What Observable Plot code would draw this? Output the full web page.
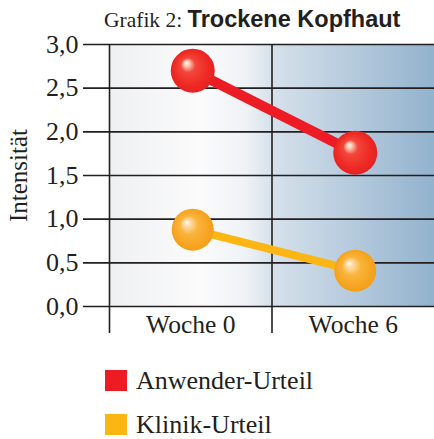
<!DOCTYPE html>
<html>
<head>
<meta charset="utf-8">
<script src="https://cdn.jsdelivr.net/npm/d3@7"></script>
<script src="https://cdn.jsdelivr.net/npm/@observablehq/plot@0.6"></script>
<style>
  body { margin: 0; background: #fff; }
  #wrap { position: relative; width: 434px; height: 439px; overflow: hidden; font-family: "Liberation Serif", serif; color: #231f20; }
  #title { position: absolute; left: 104px; top: 6px; font-size: 21.5px; white-space: nowrap; z-index: 2; }
  #title b { font-family: "Liberation Sans Narrow", "Liberation Sans", sans-serif; font-weight: bold; font-size: 23.5px; }
  #chart { position: absolute; left: 0; top: 26px; }
  .leg { position: absolute; left: 105px; height: 21px; line-height: 21px; font-size: 26px; white-space: nowrap; display: flex; align-items: center; }
  .leg span.sw { display: inline-block; width: 22px; height: 21px; margin-right: 9px; }
</style>
</head>
<body>
<div id="wrap">
  <div id="title">Grafik 2: <b>Trockene Kopfhaut</b></div>
  <div id="chart"></div>
  <div id="legend"></div>
</div>
<script>
const categories = ["Woche 0", "Woche 6"];
const anwender = [2.7, 1.76];
const klinik = [0.88, 0.41];
const yTicks = [0, 0.5, 1.0, 1.5, 2.0, 2.5, 3.0];
const seriesNames = ["Anwender-Urteil", "Klinik-Urteil"];
const seriesColors = ["#ed1c24", "#fcb614"];

const rows = [];
categories.forEach((c, i) => {
  rows.push({series: seriesNames[0], pos: i + 0.5, value: anwender[i]});
  rows.push({series: seriesNames[1], pos: i + 0.5, value: klinik[i]});
});
const redRows = rows.filter(d => d.series === seriesNames[0]);
const orRows = rows.filter(d => d.series === seriesNames[1]);

const svg = Plot.plot({
  width: 434,
  height: 322,
  marginLeft: 109,
  marginRight: 0,
  marginTop: 18,
  marginBottom: 42,
  style: {fontFamily: "'Liberation Serif', serif", fontSize: "21px", color: "#231f20", background: "transparent", overflow: "visible"},
  x: {type: "linear", domain: [0, categories.length], axis: null},
  y: {domain: [0, 3], axis: null},
  marks: [
    Plot.frame({fill: "url(#bgGrad)", stroke: null}),
    Plot.ruleY(yTicks, {stroke: "#231f20", strokeWidth: 1.6, insetLeft: -26}),
    Plot.ruleX(d3.range(categories.length), {stroke: "#231f20", strokeWidth: 1.6, insetBottom: -27}),
    Plot.axisY(yTicks, {tickSize: 0, tickPadding: 31, tickFormat: d => d.toFixed(1).replace(".", ","), fontSize: 26, label: null}),
    Plot.axisX(categories.map((c, i) => i + 0.5), {tickSize: 0, tickPadding: 8, tickFormat: d => categories[d - 0.5], fontSize: 25.5, label: null}),
    Plot.text(["Intensität"], {frameAnchor: "left", textAnchor: "middle", dx: -91, rotate: -90, fontSize: 25, fill: "#231f20"}),
    Plot.line(redRows, {x: "pos", y: "value", stroke: seriesColors[0], strokeWidth: 10, dx: 2}),
    Plot.line(orRows, {x: "pos", y: "value", stroke: seriesColors[1], strokeWidth: 8, dx: 2}),
    Plot.dot(redRows, {x: "pos", y: "value", r: 22, fill: "url(#gRed)", stroke: null, dx: 2}),
    Plot.dot(orRows, {x: "pos", y: "value", r: 21, fill: "url(#gOr)", stroke: null, dx: 2})
  ]
});

const defs = d3.select(svg).insert("defs", ":first-child");
const bg = defs.append("linearGradient").attr("id", "bgGrad").attr("x1", "0").attr("x2", "1").attr("y1", "0").attr("y2", "0");
[[0, "#eff0f1"], [0.28, "#fbfbfc"], [0.42, "#eef2f6"], [0.5, "#d6e1eb"], [0.75, "#b5cadd"], [1, "#92b2cd"]]
  .forEach(([o, c]) => bg.append("stop").attr("offset", o).attr("stop-color", c));
function sphere(id, stops) {
  const g = defs.append("radialGradient").attr("id", id).attr("cx", "0.5").attr("cy", "0.5").attr("r", "0.55").attr("fx", "0.35").attr("fy", "0.32");
  stops.forEach(([o, c]) => g.append("stop").attr("offset", o).attr("stop-color", c));
}
sphere("gRed", [[0, "#fff4e6"], [0.1, "#fcd0bd"], [0.3, "#f2473a"], [0.7, "#ee2a24"], [1, "#e41f22"]]);
sphere("gOr", [[0, "#fffcf3"], [0.12, "#fde0b0"], [0.4, "#f9b43c"], [0.8, "#f6a31f"], [1, "#f39c1a"]]);

document.getElementById("chart").append(svg);

const legend = document.getElementById("legend");
seriesNames.forEach((name, i) => {
  const div = document.createElement("div");
  div.className = "leg";
  div.style.top = (370 + i * 44) + "px";
  div.innerHTML = `<span class="sw" style="background:${seriesColors[i]}"></span>${name}`;
  legend.append(div);
});
</script>
</body>
</html>
